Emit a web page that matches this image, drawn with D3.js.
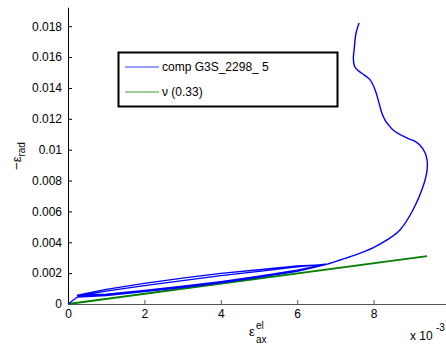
<!DOCTYPE html>
<html><head><meta charset="utf-8">
<script src="https://cdn.jsdelivr.net/npm/d3@7"></script>
<style>body{margin:0;background:#fff}svg{display:block}text{font-family:"Liberation Sans",Arial,sans-serif}</style>
</head><body>
<svg id="c" width="446" height="347"></svg>
<script>
// x values in units of 1e-3 (axis multiplier), y values ×1e-3
const xTicks = [0, 2, 4, 6, 8];
const yTicks = [0, 0.002, 0.004, 0.006, 0.008, 0.01, 0.012, 0.014, 0.016, 0.018];
const yTickLabels = ["0", "0.002", "0.004", "0.006", "0.008", "0.01", "0.012", "0.014", "0.016", "0.018"];
const seriesNames = ["comp G3S_2298_ 5", "\u03bd (0.33)"];
const nu = 0.33;

// loading / unloading loops (x: eps_ax el ×1e-3, y: -eps_rad ×1e-3)
const loopX = [0, 0.08, 0.25,
  1, 2, 3, 4, 5, 6, 6.75,
  6, 5, 4, 3, 2, 1, 0.25,
  1, 2, 3, 4, 5, 6, 6.75,
  6, 5, 4, 3, 2, 1, 0.25,
  1, 2, 3, 4, 5, 6, 6.8];
const loopY = [0, 0.15, 0.45,
  0.55, 0.80, 1.07, 1.37, 1.72, 2.12, 2.55,
  2.47, 2.22, 1.98, 1.68, 1.33, 0.95, 0.58,
  0.64, 0.88, 1.15, 1.45, 1.80, 2.19, 2.58,
  2.40, 2.12, 1.84, 1.52, 1.19, 0.84, 0.52,
  0.58, 0.83, 1.11, 1.41, 1.76, 2.15, 2.59];
// final loading branch
const mainX = [6.8, 7.12, 7.55, 7.98, 8.35, 8.69, 9.03, 9.29, 9.40, 9.40, 9.35, 9.21, 9.05, 8.87, 8.51, 8.35, 8.30,
  8.22, 8.17, 8.04, 7.91, 7.75, 7.64, 7.51, 7.47, 7.49, 7.54, 7.62];
const mainY = [2.59, 2.85, 3.20, 3.63, 4.15, 4.80, 6.09, 7.58, 8.68, 9.33, 9.79, 10.30, 10.58, 10.76, 11.28, 11.73, 11.92,
  12.35, 12.77, 13.87, 14.52, 14.85, 15.04, 15.36, 15.90, 16.46, 17.56, 18.21];
// green Poisson line endpoints (x ×1e-3)
const greenX = [0, 9.4];

const svg = d3.select("#c");
const x = d3.scaleLinear().domain([0, 0.01]).range([68, 450]);
const y = d3.scaleLinear().domain([0, 0.0192]).range([304, 7.7]);

// axes
const yAxis = d3.axisLeft(y).tickValues(yTicks).tickSize(-4).tickPadding(6)
  .tickFormat((d, i) => yTickLabels[i]);
const gy = svg.append("g").attr("transform", "translate(68,0)").call(yAxis);
gy.select(".domain").attr("stroke", "#000").attr("d", `M0.5,${y.range()[1]}V304.5`);
gy.selectAll(".tick line").attr("stroke", "#000");
gy.selectAll(".tick text").attr("font-size", 12).attr("fill", "#000");

const xAxis = d3.axisBottom(x).tickValues(xTicks.map(v => v * 1e-3)).tickSize(-4).tickPadding(5)
  .tickFormat(d => d3.format("d")(Math.round(d * 1000)));
const gx = svg.append("g").attr("transform", "translate(0,304)").call(xAxis);
gx.select(".domain").attr("stroke", "#555").attr("d", "M68,0.5H450");
gx.selectAll(".tick line").attr("stroke", "#555");
gx.selectAll(".tick text").attr("font-size", 12).attr("fill", "#000");
gx.selectAll(".tick").filter(d => d === 0).select("line").remove();
gy.selectAll(".tick").filter(d => d === 0).select("line").remove();

// data lines
const line = d3.line().x(d => x(d[0] * 1e-3)).y(d => y(d[1] * 1e-3));
svg.append("path")
  .datum(greenX.map(v => [v, v * nu]))
  .attr("d", line).attr("fill", "none").attr("stroke", "#008000").attr("stroke-width", 2);
svg.append("path")
  .datum(loopX.map((v, i) => [v, loopY[i]]))
  .attr("d", line.curve(d3.curveLinear)).attr("fill", "none").attr("stroke", "#0000ff").attr("stroke-width", 1.3)
  .attr("stroke-linejoin", "round");
svg.append("path")
  .datum(mainX.map((v, i) => [v, mainY[i]]))
  .attr("d", line.curve(d3.curveCatmullRom)).attr("fill", "none").attr("stroke", "#0000ff").attr("stroke-width", 1.4)
  .attr("stroke-linejoin", "round");

// axis labels
const yl = svg.append("text").attr("transform", "translate(21,156) rotate(-90)")
  .attr("font-size", 13).attr("text-anchor", "middle").attr("fill", "#000");
yl.append("tspan").text("\u2212\u03b5");
yl.append("tspan").attr("font-size", 10).attr("dy", 4).text("rad");

svg.append("text").attr("x", 249).attr("y", 336).attr("font-size", 13).attr("fill", "#000").text("\u03b5");
svg.append("text").attr("x", 256).attr("y", 329).attr("font-size", 10).text("el");
svg.append("text").attr("x", 256).attr("y", 343).attr("font-size", 10).text("ax");

svg.append("text").attr("x", 410).attr("y", 340).attr("font-size", 12).attr("fill", "#000").text("x 10");
svg.append("text").attr("x", 436).attr("y", 331).attr("font-size", 10).text("-3");

// legend
const lg = svg.append("g");
lg.append("rect").attr("x", 118.5).attr("y", 52.5).attr("width", 219).attr("height", 54)
  .attr("fill", "#fff").attr("stroke", "#000").attr("stroke-width", 2);
const legColors = ["#3040ff", "#3a9a3a"];
seriesNames.forEach((n, i) => {
  const yy = 67 + i * 25;
  lg.append("line").attr("x1", 125).attr("x2", 159).attr("y1", yy).attr("y2", yy)
    .attr("stroke", legColors[i]).attr("stroke-width", 1);
  lg.append("text").attr("x", 162).attr("y", yy + 4).attr("font-size", 12).attr("fill", "#000").text(n);
});
</script>
</body></html>
